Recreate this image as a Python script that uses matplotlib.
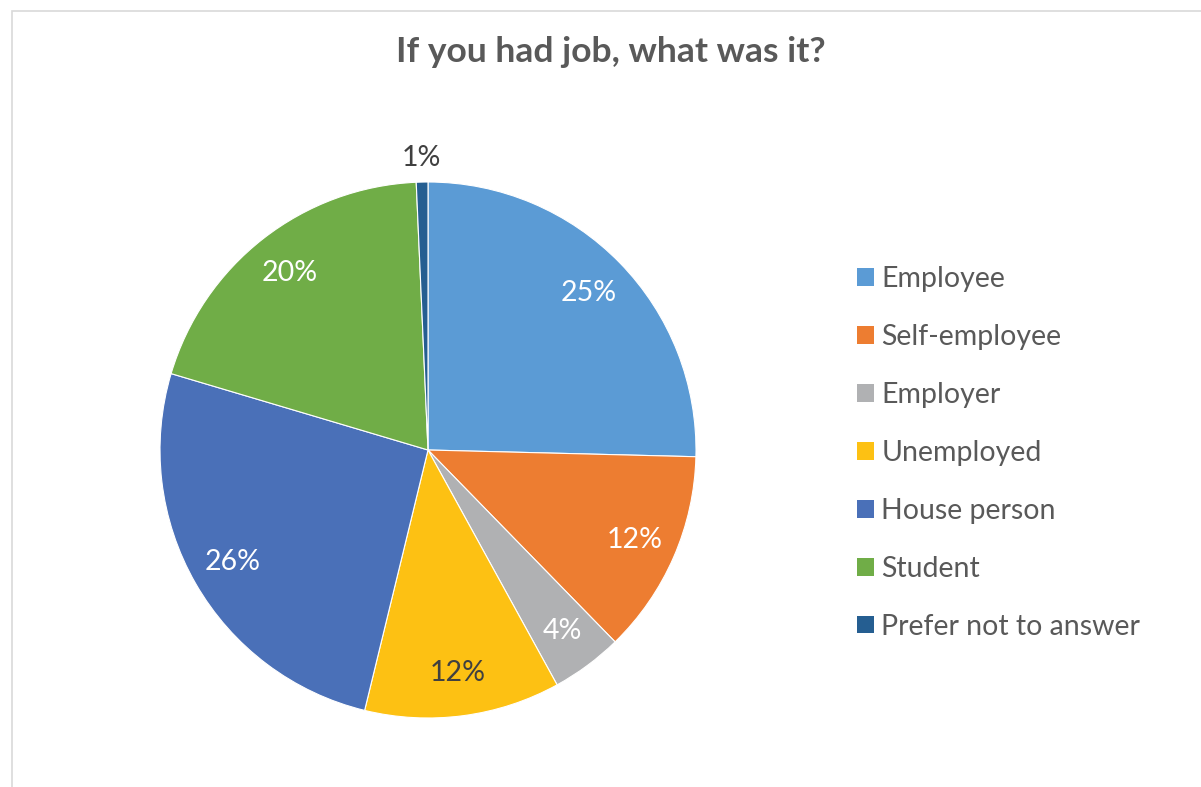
import matplotlib.pyplot as plt
from matplotlib.patches import Patch, Rectangle

# survey answers, percent of respondents
categorias = ["Employee", "Self-employee", "Employer", "Unemployed",
              "House person", "Student", "Prefer not to answer"]
valores = [25.4, 12.3, 4.3, 11.8, 25.8, 19.7, 0.7]
cores = ["#5B9BD5", "#ED7D31", "#B0B1B3", "#FDC113",
         "#4A70B8", "#70AD47", "#255E91"]
cor_rotulo = ["white", "white", "white", "#404040", "white", "white", "#404040"]

plt.rcParams['font.family'] = ['Lato', 'DejaVu Sans']

fig = plt.figure(figsize=(12.01, 7.87), dpi=100, facecolor='white')

# moldura cinza clara do grafico
fig.patches.append(Rectangle((12 / 1201, -0.1), 1.2, 1 - 11 / 787 + 0.1,
                             transform=fig.transFigure, fill=False,
                             edgecolor='#D9D9D9', linewidth=1.2))

ax = fig.add_axes([160 / 1201, 69 / 787, 536 / 1201, 536 / 787])
fatias, textos, pcts = ax.pie(valores, colors=cores, startangle=90, counterclock=False,
                              autopct='%.0f%%', pctdistance=0.84,
                              wedgeprops=dict(edgecolor='white', linewidth=0.8),
                              textprops=dict(fontsize=20.5))
for t, c in zip(pcts, cor_rotulo):
    t.set_color(c)

# o rotulo da fatia minuscula fica do lado de fora
x, y = pcts[-1].get_position()
r = (x ** 2 + y ** 2) ** 0.5
pcts[-1].set_position((x / r * 1.09, y / r * 1.09))

ax.set_xlim(-1, 1)
ax.set_ylim(-1, 1)
ax.set_aspect('equal')

fig.text(611 / 1201, 1 - 52 / 787, "If you had job, what was it?", ha='center', va='center',
         fontsize=25.5, fontweight='bold', color='#595959')

alcas = [Patch(facecolor=c, edgecolor='none') for c in cores]
fig.legend(alcas, categorias, loc='center left', bbox_to_anchor=(857 / 1201, 1 - 453 / 787),
           frameon=False, fontsize=20.5, labelcolor='#595959',
           handlelength=0.58, handleheight=0.58, handletextpad=0.28, labelspacing=1.12,
           borderaxespad=0, borderpad=0)

plt.savefig("out.png", dpi=100, facecolor='white')
